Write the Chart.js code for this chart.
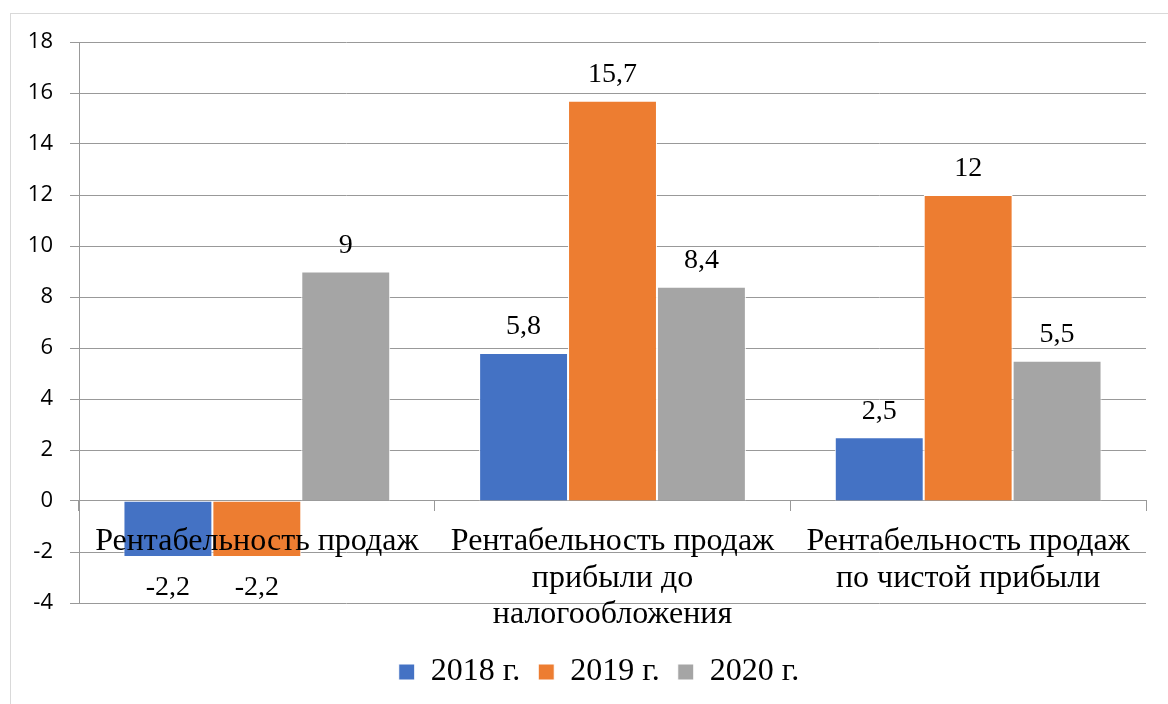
<!DOCTYPE html>
<html>
<head>
<meta charset="utf-8">
<script src="https://cdn.jsdelivr.net/npm/chart.js@4"></script>
<style>
  html, body { margin: 0; padding: 0; background: #fff; overflow: hidden; }
  #frame { position: absolute; left: 10px; top: 13px; width: 1300px; height: 900px; border: 1px solid #d9d9d9; }
  #wrap { position: absolute; left: 0; top: 0; width: 1168px; height: 704px; }
</style>
</head>
<body>
<div id="frame"></div>
<div id="wrap"><canvas id="ChartCanvas"></canvas></div>
<script>
var categories = [
    "Рентабельность продаж",
    ["Рентабельность продаж", "прибыли до", "налогообложения"],
    ["Рентабельность продаж", "по чистой прибыли"]
];
var seriesNames = ["2018 г.", "2019 г.", "2020 г."];
var values2018 = [-2.2, 5.8, 2.5];
var values2019 = [-2.2, 15.7, 12];
var values2020 = [9, 8.4, 5.5];
var yTicks = [-4, -2, 0, 2, 4, 6, 8, 10, 12, 14, 16, 18];

var serif = "'Liberation Serif', 'Times New Roman', serif";

var valueLabels = //write the value above (or below for negatives) every bar
{
    id: "valueLabels",
    afterDatasetsDraw: function(chart)
    {
        var ctx = chart.ctx;
        ctx.save();
        ctx.font = "28px " + serif;
        ctx.fillStyle = "#000";
        ctx.textAlign = "center";
        ctx.textBaseline = "middle";
        chart.data.datasets.forEach(function(ds, i)
        {
            var meta = chart.getDatasetMeta(i);
            meta.data.forEach(function(bar, j)
            {
                var v = ds.data[j];
                var text = String(v).replace(".", ",");
                var y = v < 0 ? bar.y + 31 : bar.y - 26;
                ctx.fillText(text, bar.x, y);
            });
        });
        ctx.restore();
    }
};

var legendShift = //move the legend a bit to the right, like in the original
{
    id: "legendShift",
    afterLayout: function(chart)
    {
        chart.legend.left += 16;
        chart.legend.right += 16;
    }
};

var data =
{
    labels: categories,
    datasets:
    [
        { label: seriesNames[0], data: values2018, backgroundColor: "#4472C4" },
        { label: seriesNames[1], data: values2019, backgroundColor: "#ED7D31" },
        { label: seriesNames[2], data: values2020, backgroundColor: "#A5A5A5" }
    ]
};
data.datasets.forEach(function(ds)
{
    ds.borderColor = "#fff";
    ds.borderWidth = 1;
    ds.categoryPercentage = 0.75;
    ds.barPercentage = 1.0;
});

var noSidePadding = function(scale) { scale.paddingLeft = 0; scale.paddingRight = 0; };

var config =
{
    type: "bar",
    data: data,
    plugins: [valueLabels, legendShift],
    options:
    {
        responsive: true,
        maintainAspectRatio: false,
        animation: false,
        layout: { padding: { left: 20, right: 22, top: 42, bottom: 6 } },
        plugins:
        {
            tooltip: { enabled: false },
            legend:
            {
                position: "bottom",
                title: { display: true, text: "", font: { size: 2, lineHeight: 1 }, padding: { top: 33, bottom: 0 } },
                labels:
                {
                    boxWidth: 16,
                    boxHeight: 16,
                    padding: 18,
                    color: "#000",
                    font: { family: serif, size: 32 }
                }
            }
        },
        scales:
        {
            x:
            {
                position: { y: 0 },
                afterFit: noSidePadding,
                afterUpdate: noSidePadding,
                grid: { display: true, drawOnChartArea: false, drawTicks: true, tickLength: 10, color: "#999", offset: true },
                border: { display: true, color: "#999" },
                ticks:
                {
                    z: 1, //category names are written over the bars
                    color: "#000",
                    padding: 12,
                    maxRotation: 0,
                    autoSkip: false,
                    font: { family: serif, size: 32, lineHeight: 1.15 }
                }
            },
            y:
            {
                min: yTicks[0],
                max: yTicks[yTicks.length - 1],
                afterBuildTicks: function(scale)
                {
                    scale.ticks = yTicks.map(function(v) { return { value: v }; });
                },
                afterFit: function(scale) { scale.width = 59; },
                grid: { color: "#999", tickLength: 9 },
                border: { display: true, color: "#999" },
                ticks:
                {
                    color: "#000",
                    padding: 17,
                    font: { family: "'Open Sans', sans-serif", size: 22 }
                }
            }
        }
    }
};

var createdChart = new Chart(document.getElementById("ChartCanvas").getContext("2d"), config);
</script>
</body>
</html>
